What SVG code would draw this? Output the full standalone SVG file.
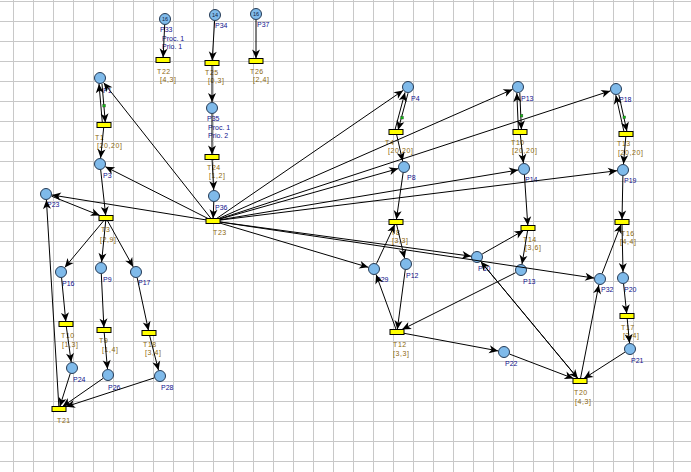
<svg xmlns="http://www.w3.org/2000/svg" width="691" height="472" viewBox="0 0 691 472">
<defs>
<pattern id="grid" x="13" y="1" width="20" height="20" patternUnits="userSpaceOnUse"><path d="M0.5 0V20M0 0.5H20" fill="none" stroke="#c8c8c8" stroke-width="1"/></pattern>
<marker id="ah" markerUnits="userSpaceOnUse" markerWidth="10" markerHeight="9" refX="9" refY="4" orient="auto" overflow="visible"><path d="M0,0 L9,4 L0,8 L2.5,4 Z" fill="#000"/></marker>
<style>
.pl circle{fill:#7fbaea;stroke:#243a55;stroke-width:1}
.tr rect{fill:#ffff00;stroke:#000;stroke-width:1}
.pn{font-family:"Liberation Sans",Arial,sans-serif;font-size:7px;fill:#10108c}
.tn{font-family:"Liberation Sans",Arial,sans-serif;font-size:7px;fill:#8c680c;letter-spacing:0.6px}
.tok{font-family:"Liberation Sans",Arial,sans-serif;font-size:5.5px;fill:#102040;text-anchor:middle}
#connectors line{stroke:#000;stroke-width:1;marker-end:url(#ah)}
.gm{fill:#10c010;stroke:#205020;stroke-width:0.5}
</style>
</defs>
<rect width="691" height="472" fill="#fff"/>
<rect width="691" height="472" fill="url(#grid)"/>

<g id="nodes">
<g id="P1" class="pl"><circle cx="100" cy="78" r="5.5"/><text class="pn" x="103" y="93">P1</text></g>
<g id="P3" class="pl"><circle cx="100" cy="164" r="5.5"/><text class="pn" x="103" y="178">P3</text></g>
<g id="P23" class="pl"><circle cx="46" cy="194" r="5.5"/><text class="pn" x="47" y="207">P23</text></g>
<g id="P16" class="pl"><circle cx="61" cy="272" r="5.5"/><text class="pn" x="62" y="286">P16</text></g>
<g id="P9" class="pl"><circle cx="101" cy="268" r="5.5"/><text class="pn" x="103" y="282">P9</text></g>
<g id="P17" class="pl"><circle cx="136" cy="272" r="5.5"/><text class="pn" x="138" y="285">P17</text></g>
<g id="P24" class="pl"><circle cx="72" cy="368" r="5.5"/><text class="pn" x="73" y="382">P24</text></g>
<g id="P26" class="pl"><circle cx="108" cy="375" r="5.5"/><text class="pn" x="108" y="390">P26</text></g>
<g id="P28" class="pl"><circle cx="160" cy="376" r="5.5"/><text class="pn" x="161" y="390">P28</text></g>
<g id="P33" class="pl"><circle cx="165" cy="19" r="5.5"/><text class="tok" x="165" y="21">16</text><text class="pn" x="160" y="32">P33</text><text class="pn" x="162" y="41">Proc. 1</text><text class="pn" x="162" y="49">Prio. 1</text></g>
<g id="P34" class="pl"><circle cx="215" cy="15" r="5.5"/><text class="tok" x="215" y="17">14</text><text class="pn" x="215" y="28">P34</text></g>
<g id="P37" class="pl"><circle cx="256" cy="14" r="5.5"/><text class="tok" x="256" y="16">16</text><text class="pn" x="257" y="27">P37</text></g>
<g id="P35" class="pl"><circle cx="212" cy="108" r="5.5"/><text class="pn" x="207" y="121">P35</text><text class="pn" x="208" y="130">Proc. 1</text><text class="pn" x="208" y="138">Prio. 2</text></g>
<g id="P36" class="pl"><circle cx="214" cy="196" r="5.5"/><text class="pn" x="215" y="210">P36</text></g>
<g id="P4" class="pl"><circle cx="408" cy="87" r="5.5"/><text class="pn" x="411" y="101">P4</text></g>
<g id="P8" class="pl"><circle cx="404" cy="167" r="5.5"/><text class="pn" x="407" y="180">P8</text></g>
<g id="P29" class="pl"><circle cx="374" cy="269" r="5.5"/><text class="pn" x="376" y="282">P29</text></g>
<g id="P12" class="pl"><circle cx="406" cy="264" r="5.5"/><text class="pn" x="406" y="278">P12</text></g>
<g id="P10" class="pl"><circle cx="477" cy="257" r="5.5"/><text class="pn" x="478" y="271">P10</text></g>
<g id="P13a" class="pl"><circle cx="518" cy="87" r="5.5"/><text class="pn" x="521" y="101">P13</text></g>
<g id="P14" class="pl"><circle cx="524" cy="169" r="5.5"/><text class="pn" x="525" y="182">P14</text></g>
<g id="P13" class="pl"><circle cx="521" cy="270" r="5.5"/><text class="pn" x="523" y="284">P13</text></g>
<g id="P22" class="pl"><circle cx="504" cy="352" r="5.5"/><text class="pn" x="505" y="366">P22</text></g>
<g id="P18" class="pl"><circle cx="616" cy="89" r="5.5"/><text class="pn" x="619" y="102">P18</text></g>
<g id="P19" class="pl"><circle cx="623" cy="170" r="5.5"/><text class="pn" x="624" y="183">P19</text></g>
<g id="P32" class="pl"><circle cx="600" cy="279" r="5.5"/><text class="pn" x="601" y="292">P32</text></g>
<g id="P20" class="pl"><circle cx="623" cy="278" r="5.5"/><text class="pn" x="624" y="292">P20</text></g>
<g id="P21" class="pl"><circle cx="630" cy="349" r="5.5"/><text class="pn" x="631" y="363">P21</text></g>

<g id="T1" class="tr"><rect x="97" y="122.5" width="14" height="5"/><text class="tn" x="95" y="140">T1</text><text class="tn" x="97" y="148">[20,20]</text></g>
<g id="T3" class="tr"><rect x="99" y="215.5" width="14" height="5"/><text class="tn" x="101" y="232">T3</text><text class="tn" x="100" y="242">[2,9]</text></g>
<g id="T10b" class="tr"><rect x="59" y="321.5" width="14" height="5"/><text class="tn" x="61" y="338">T10</text><text class="tn" x="62" y="347">[1,3]</text></g>
<g id="T9" class="tr"><rect x="97" y="327.5" width="14" height="5"/><text class="tn" x="99" y="343">T9</text><text class="tn" x="102" y="352">[1,4]</text></g>
<g id="T18" class="tr"><rect x="142" y="330.5" width="14" height="5"/><text class="tn" x="143" y="347">T18</text><text class="tn" x="145" y="355">[3,4]</text></g>
<g id="T21" class="tr"><rect x="52" y="406.5" width="14" height="5"/><text class="tn" x="57" y="423">T21</text></g>
<g id="T22" class="tr"><rect x="156" y="57.5" width="14" height="5"/><text class="tn" x="157" y="74">T22</text><text class="tn" x="160" y="82">[4,3]</text></g>
<g id="T25" class="tr"><rect x="205" y="60.5" width="14" height="5"/><text class="tn" x="205" y="75">T25</text><text class="tn" x="208" y="83">[0,3]</text></g>
<g id="T26" class="tr"><rect x="249" y="58.5" width="14" height="5"/><text class="tn" x="250" y="74">T26</text><text class="tn" x="253" y="82">[2,4]</text></g>
<g id="T24" class="tr"><rect x="205" y="154.5" width="14" height="5"/><text class="tn" x="207" y="170">T24</text><text class="tn" x="209" y="178">[1,2]</text></g>
<g id="T23" class="tr"><rect x="206" y="218.5" width="14" height="5"/><text class="tn" x="213" y="235">T23</text></g>
<g id="T4" class="tr"><rect x="389" y="129.5" width="14" height="5"/><text class="tn" x="385" y="145">T4</text><text class="tn" x="388" y="153">[20,20]</text></g>
<g id="T8" class="tr"><rect x="389" y="219.5" width="14" height="5"/><text class="tn" x="391" y="235">T8</text><text class="tn" x="392" y="243">[3,3]</text></g>
<g id="T12" class="tr"><rect x="390" y="329.5" width="14" height="5"/><text class="tn" x="393" y="347">T12</text><text class="tn" x="393" y="356">[3,3]</text></g>
<g id="T10" class="tr"><rect x="513" y="129.5" width="14" height="5"/><text class="tn" x="511" y="145">T10</text><text class="tn" x="512" y="153">[20,20]</text></g>
<g id="T14" class="tr"><rect x="521" y="225.5" width="14" height="5"/><text class="tn" x="523" y="242">T14</text><text class="tn" x="525" y="250">[3,6]</text></g>
<g id="T13" class="tr"><rect x="619" y="131.5" width="14" height="5"/><text class="tn" x="617" y="146">T13</text><text class="tn" x="618" y="155">[20,20]</text></g>
<g id="T16" class="tr"><rect x="615" y="219.5" width="14" height="5"/><text class="tn" x="621" y="236">T16</text><text class="tn" x="620" y="244">[4,4]</text></g>
<g id="T17" class="tr"><rect x="620" y="313.5" width="14" height="5"/><text class="tn" x="621" y="330">T17</text><text class="tn" x="623" y="338">[3,4]</text></g>
<g id="T20" class="tr"><rect x="573" y="378.5" width="14" height="5"/><text class="tn" x="574" y="395">T20</text><text class="tn" x="575" y="404">[4,3]</text></g>
</g>

<g id="connectors">
<line x1="164.7" y1="25" x2="163.1" y2="57.5"/>
<line x1="214.6" y1="21" x2="212.2" y2="60.5"/>
<line x1="212" y1="65.5" x2="212" y2="102"/>
<line x1="212" y1="114" x2="212" y2="154.5"/>
<line x1="212.1" y1="159.5" x2="213.7" y2="190"/>
<line x1="213.8" y1="202" x2="213.1" y2="218.5"/>
<line x1="256" y1="20" x2="256" y2="58.5"/>
<line x1="211" y1="218.5" x2="103.7" y2="82.7"/>
<line x1="208" y1="218.5" x2="105.4" y2="166.7"/>
<line x1="206" y1="219.9" x2="51.9" y2="195"/>
<line x1="102" y1="84" x2="105.3" y2="122.5"/>
<line x1="102.3" y1="122.5" x2="99" y2="84"/>
<line x1="103.7" y1="127.5" x2="100.6" y2="158"/>
<line x1="100.7" y1="170" x2="105.7" y2="215.5"/>
<line x1="51.6" y1="196.2" x2="99.8" y2="215.5"/>
<line x1="103.9" y1="220.5" x2="64.8" y2="267.4"/>
<line x1="105.75" y1="220.5" x2="101.6" y2="262"/>
<line x1="107.4" y1="220.5" x2="133.1" y2="266.8"/>
<line x1="61.6" y1="278" x2="65.8" y2="321.5"/>
<line x1="66.3" y1="326.5" x2="71.2" y2="362.1"/>
<line x1="101.3" y1="274" x2="103.9" y2="327.5"/>
<line x1="104.2" y1="332.5" x2="107.5" y2="369"/>
<line x1="137.2" y1="277.9" x2="148.5" y2="330.5"/>
<line x1="149.6" y1="335.5" x2="158.5" y2="370.2"/>
<line x1="70.2" y1="373.7" x2="59.8" y2="406.5"/>
<line x1="103.1" y1="378.4" x2="62.6" y2="406.5"/>
<line x1="154.3" y1="377.9" x2="66" y2="406.7"/>
<line x1="58.85" y1="406.5" x2="46.4" y2="200"/>
<line x1="216.6" y1="218.5" x2="403.1" y2="90.4"/>
<line x1="218.7" y1="218.5" x2="512.5" y2="89.4"/>
<line x1="220" y1="218.7" x2="610.3" y2="90.9"/>
<line x1="220" y1="219" x2="398.2" y2="168.6"/>
<line x1="220" y1="219.8" x2="518.1" y2="170"/>
<line x1="220" y1="220.1" x2="617" y2="170.7"/>
<line x1="220" y1="223.1" x2="368.3" y2="267.3"/>
<line x1="220" y1="222" x2="471.1" y2="256.2"/>
<line x1="220" y1="222" x2="594.1" y2="278.1"/>
<line x1="408" y1="93.2" x2="398.1" y2="129.9"/>
<line x1="395.2" y1="129.1" x2="405" y2="92.4"/>
<line x1="396.6" y1="134.5" x2="402.7" y2="161.2"/>
<line x1="403.1" y1="172.9" x2="396.4" y2="219.5"/>
<line x1="376.5" y1="263.6" x2="394.8" y2="224.5"/>
<line x1="396.6" y1="224.5" x2="404.6" y2="258.2"/>
<line x1="405.2" y1="270" x2="397.3" y2="329.5"/>
<line x1="396.1" y1="329.5" x2="376.1" y2="274.6"/>
<line x1="515.6" y1="272.7" x2="402" y2="329.5"/>
<line x1="527.6" y1="230.5" x2="522" y2="264.1"/>
<line x1="482.2" y1="254" x2="523.6" y2="230.5"/>
<line x1="480.8" y1="261.6" x2="577.9" y2="378.5"/>
<line x1="577.9" y1="378.5" x2="480.8" y2="261.6"/>
<line x1="404" y1="333.3" x2="498.1" y2="350.9"/>
<line x1="509.6" y1="354.1" x2="573.5" y2="378.5"/>
<line x1="624.9" y1="352.2" x2="583.9" y2="378.5"/>
<line x1="580.5" y1="378.5" x2="598.8" y2="284.9"/>
<line x1="602.2" y1="273.4" x2="621" y2="224.5"/>
<line x1="622" y1="224.5" x2="623" y2="272"/>
<line x1="623.6" y1="284" x2="626.7" y2="313.5"/>
<line x1="627.2" y1="318.5" x2="629.5" y2="343"/>
<line x1="519.8" y1="93" x2="521.4" y2="129.5"/>
<line x1="518.4" y1="129.5" x2="516.8" y2="93"/>
<line x1="520.3" y1="134.5" x2="523.4" y2="163"/>
<line x1="524.4" y1="175" x2="527.8" y2="225.5"/>
<line x1="618.8" y1="94.6" x2="626.9" y2="131.2"/>
<line x1="624" y1="131.8" x2="615.8" y2="95.2"/>
<line x1="625.8" y1="136.5" x2="623.5" y2="164"/>
<line x1="622.9" y1="176" x2="622" y2="219.5"/>
<rect class="gm" x="102.8" y="104.5" width="2.5" height="2.5"/>
<rect class="gm" x="400.8" y="116.5" width="2.5" height="2.5"/>
<rect class="gm" x="520.3" y="114.5" width="2.5" height="2.5"/>
<rect class="gm" x="623" y="116" width="2.5" height="2.5"/>
</g>
</svg>
